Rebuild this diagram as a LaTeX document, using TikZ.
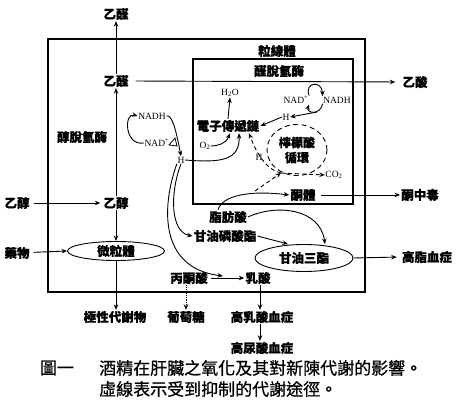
\documentclass[tikz,border=0pt]{standalone}
\usepackage{fontspec}
\setmainfont{Liberation Serif}
\newfontfamily\cjk[FakeBold=0.6]{Noto Sans CJK TC}
\usetikzlibrary{arrows.meta,shapes.geometric,calc}
\tikzset{
  lbl/.style={font=\cjk\bfseries\fontsize{12.5}{14}\selectfont, inner sep=1pt},
  lat/.style={font=\fontsize{9.5}{10}\selectfont, inner sep=0.5pt},
  captxt/.style={font=\cjk\fontsize{17}{19}\selectfont, inner sep=0pt},
  arr/.style={-{Stealth[length=5.5pt,width=4.5pt]}, line width=0.9pt},
  dsh/.style={arr, dash pattern=on 4pt off 3pt},
  boxline/.style={line width=1.1pt},
  ell/.style={draw, ellipse, line width=0.9pt, inner sep=0pt, font=\cjk\bfseries\fontsize{12.5}{14}\selectfont}
}
\begin{document}
\begin{tikzpicture}[x=1pt,y=-1pt]
\useasboundingbox (0,0) rectangle (456,403);
% boxes
\draw[boxline] (48,39) rectangle (365,292);
\draw[boxline] (193,59) rectangle (353,204);
\node[lbl] (mito) at (277,51) {粒線體};
\node[lbl] (aldh) at (279,71) {醛脫氫酶};
% ethanol / acetaldehyde column
\node[lbl] (acetop) at (116,14) {乙醛};
\node[lbl] (ace) at (116,81) {乙醛};
\node[lbl] (acetate) at (415,82) {乙酸};
\node[lbl] (adh) at (82,137) {醇脫氫酶};
\node[lbl] (ethout) at (17,203) {乙醇};
\node[lbl] (eth) at (116,203) {乙醇};
\node[lbl] (drug) at (17,253) {藥物};
\node[ell, minimum width=97pt, minimum height=19pt] (micro) at (116,251) {微粒體};
\node[lbl] (polar) at (115,317) {極性代謝物};
\draw[arr] (eth) -- (ace);
\draw[arr] (ace) -- (acetop);
\draw[arr, shorten <=6pt, shorten >=6pt] (ace.east) -- (acetate.west);
\draw[arr, shorten <=3pt, shorten >=2pt] (ethout) -- (eth);
\draw[arr, shorten <=3pt] (drug) -- (micro.west);
\draw[arr] (eth) -- (micro.north);
\draw[arr] (micro.south) -- (micro.south |- polar.north);
% cytosolic NAD cycle
\node[lat] (nadhc) at (152,116) {NADH};
\node[lat] (nadc) at (157,143) {NAD\textsuperscript{+}};
\node[lat] (Hc) at (181,160) {H};
\draw[arr] (nadc.west) .. controls (124,146) and (124,112) .. (nadhc.west);
\draw[arr] (nadhc.east) .. controls (172,114) and (176,130) .. (Hc.north);
\draw[line width=0.8pt] (169,145) -- (175,138) -- (177,146) -- cycle;
% mitochondrial contents
\node[lat] (h2o) at (230,93) {H\textsubscript{2}O};
\node[lbl] (etc) at (228,126) {電子傳遞鏈};
\node[lat] (o2) at (205,146) {O\textsubscript{2}};
\node[lat] (nadm) at (296,100) {NAD\textsuperscript{+}};
\node[lat] (nadhm) at (337,100) {NADH};
\node[lat] (Hm) at (286,117) {H};
\node[draw, ellipse, line width=0.9pt, dash pattern=on 5pt off 3.5pt, minimum width=60pt, minimum height=51pt, align=center, inner sep=0pt, font=\cjk\bfseries\fontsize{12}{15}\selectfont] (tca) at (297,150) {檸檬酸\\循環};
\node[lat] (Hs) at (259,157) {H};
\node[lat] (co2) at (334,175) {CO\textsubscript{2}};
\node[lbl] (ket) at (303,195) {酮體};
\coordinate (acoa) at (281,173);
\coordinate (mb) at (317,112);
\coordinate (dstart) at (255,191);
\draw[arr] (etc.north) -- (h2o.south);
\draw[arr] (o2.east) .. controls (217,146) and (226,144) .. ([xshift=2pt]etc.south);
\draw[arr] (Hc.east) .. controls (222,163) and (240,160) .. ([xshift=11pt]etc.south);
\draw[arr] (nadm.north east) .. controls (304,82) and (322,80) .. (nadhm.north west);
\draw[arr] (nadhm.south west) .. controls (320,116) and (306,113) .. (nadm.south east);
\draw[arr] (mb) -- (Hm.east);
\draw[arr] (Hm.west) -- (etc.east);
\draw[dsh] (dstart) -- (acoa);
\draw[dsh] (acoa) -- (co2.west);
\draw[dsh] (acoa) .. controls (266,170) and (256,152) .. ([xshift=21pt]etc.south);
% lower part
\node[lbl] (fa) at (228,217) {脂肪酸};
\node[lbl] (gp) at (225,236) {甘油磷酸酯};
\node[ell, minimum width=98pt, minimum height=27pt] (tg) at (304,258) {甘油三酯};
\node[lbl] (ketosis) at (420,195) {酮中毒};
\node[lbl] (hl) at (427,257) {高脂血症};
\node[lbl] (pyr) at (189,278) {丙酮酸};
\node[lbl] (lac) at (258,278) {乳酸};
\node[lbl] (glu) at (186,317) {葡萄糖};
\node[lbl] (hlac) at (262,317) {高乳酸血症};
\node[lbl] (hur) at (262,348) {高尿酸血症};
\coordinate (pl) at (223,276);
\draw[arr] ([xshift=-10pt]fa.north) .. controls (222,196) and (248,190) .. (ket.west);
\draw[arr] (fa.east) .. controls (276,204) and (320,208) .. ([xshift=21pt]tg.north);
\draw[arr] (gp.east) -- ([xshift=-16pt]tg.north);
\draw[arr, shorten <=4pt] (ket.east) -- (ketosis.west);
\draw[arr, shorten >=4pt] (tg.east) -- (hl.west);
\draw[arr] (Hc.south) .. controls (170,192) and (170,232) .. (gp.west);
\draw[arr] (Hc.south west) .. controls (162,205) and (158,268) .. (pl);
\draw[arr, shorten <=2pt] (pyr.east) -- (lac.west);
\draw[arr, densely dotted] (pyr.south -| glu) -- (glu.north);
\draw[arr] ([xshift=2pt]lac.south) -- ([xshift=2pt]lac.south |- hlac.north);
\draw[arr] ([xshift=-2pt]hlac.south) -- ([xshift=-2pt]hlac.south |- hur.north);
% caption
\node[captxt] (fig) at (57,368) {圖一};
\node[captxt, anchor=west] (cap1) at (99,368) {酒精在肝臟之氧化及其對新陳代謝的影響。};
\node[captxt, anchor=west] (cap2) at (99,389) {虛線表示受到抑制的代謝途徑。};
\end{tikzpicture}
\end{document}
